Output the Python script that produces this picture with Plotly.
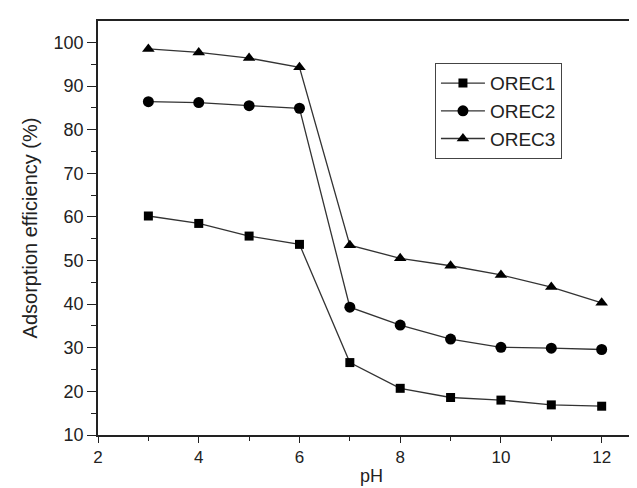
import plotly.graph_objects as go

ph = [3, 4, 5, 6, 7, 8, 9, 10, 11, 12]
orec1 = [60.2, 58.5, 55.6, 53.7, 26.6, 20.7, 18.6, 18.0, 16.9, 16.6]
orec2 = [86.4, 86.2, 85.5, 84.9, 39.3, 35.2, 32.0, 30.1, 29.9, 29.6]
orec3 = [98.5, 97.7, 96.4, 94.3, 53.5, 50.5, 48.8, 46.7, 43.9, 40.3]
series_names = ["OREC1", "OREC2", "OREC3"]
x_ticks = [2, 4, 6, 8, 10, 12]
y_ticks = [10, 20, 30, 40, 50, 60, 70, 80, 90, 100]
x_title = "pH"
y_title = "Adsorption efficiency (%)"

font = "Liberation Sans, Arial, sans-serif"
fig = go.Figure()
for name, vals, sym, size in zip(series_names, [orec1, orec2, orec3],
                                 ["square", "circle", "triangle-up"], [9, 11, 11]):
    fig.add_trace(go.Scatter(
        x=ph, y=vals, name=name, mode="lines+markers",
        line=dict(color="#333333", width=1.3),
        marker=dict(symbol=sym, size=size, color="black"),
    ))

fig.update_layout(
    width=637, height=488,
    margin=dict(l=90, r=0, t=13, b=61),
    paper_bgcolor="white", plot_bgcolor="white",
    font=dict(family=font, size=18, color="#222222"),
    showlegend=True,
    legend=dict(
        x=0.616, y=0.898, xanchor="left", yanchor="top",
        bordercolor="#444444", borderwidth=1, bgcolor="white",
        font=dict(size=19, family=font, color="#222222"),
        tracegroupgap=0, itemwidth=44,
    ),
    annotations=[dict(
        text=x_title, x=0.5, y=0, xref="paper", yref="paper",
        xanchor="center", yanchor="top", yshift=-29, showarrow=False,
        font=dict(size=18, family=font, color="#222222"),
    )],
)
fig.update_xaxes(
    range=[2, 12.86], tickvals=x_ticks, ticktext=[str(v) for v in x_ticks],
    showgrid=False, zeroline=False, automargin=False,
    showline=True, linecolor="#222222", linewidth=1.8, mirror=True,
    ticks="outside", ticklen=6, tickwidth=1.3, tickcolor="#222222",
    minor=dict(dtick=1, tick0=2, ticks="outside", ticklen=4, tickwidth=1.2, tickcolor="#222222"),
    tickfont=dict(size=17, family=font),
)
fig.update_yaxes(
    range=[10, 104.9], tickvals=y_ticks, ticktext=[str(v) for v in y_ticks],
    showgrid=False, zeroline=False, automargin=False,
    showline=True, linecolor="#222222", linewidth=1.8, mirror=False,
    ticks="outside", ticklen=9, tickwidth=1.3, tickcolor="#222222",
    minor=dict(dtick=5, tick0=5, ticks="outside", ticklen=5, tickwidth=1.2, tickcolor="#222222"),
    title=dict(text=y_title, font=dict(size=20, family=font), standoff=10),
    tickfont=dict(size=18, family=font),
)

fig.write_html("out.html")
